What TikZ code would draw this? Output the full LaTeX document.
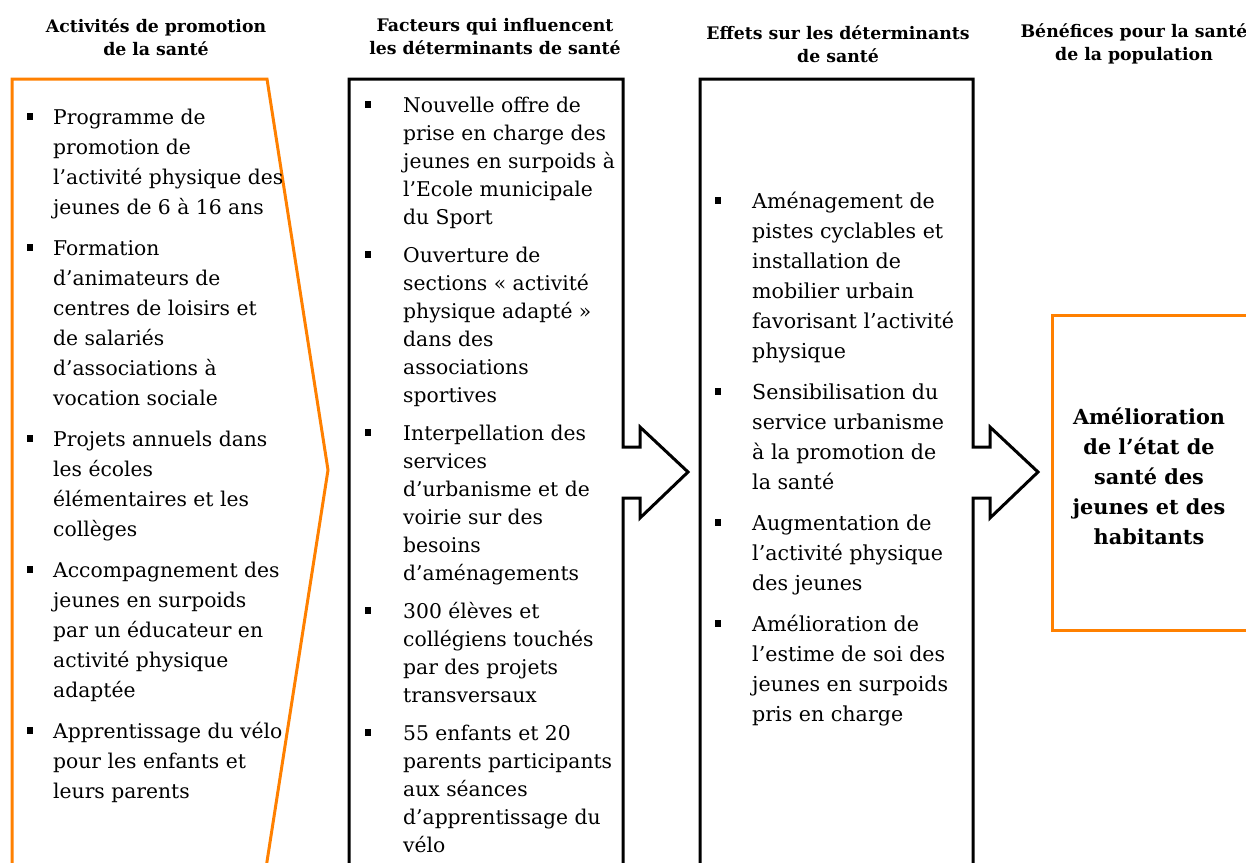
\documentclass[tikz,border=0pt]{standalone}
\usepackage{fontspec}
\setmainfont{DejaVu Serif}
\usepackage{tikz}

\definecolor{boxorange}{RGB}{255,128,0}
\newcommand{\sqb}[1]{\llap{\raisebox{5pt}{\rule{6.5pt}{6.5pt}}\hspace{#1}}}

\tikzset{
  orangeline/.style={draw=boxorange, line width=3pt, line join=miter},
  blackline/.style={draw=black, line width=3pt, line join=miter},
  heading/.style={font=\bfseries\fontsize{17.3}{23}\selectfont, align=center, inner sep=0pt},
  itemtext/.style={align=left, anchor=north west, inner sep=0pt},
}

\begin{document}
\begin{tikzpicture}[x=1pt, y=-1pt]
  \useasboundingbox (0,0) rectangle (1246,862);
  \clip (0,0) rectangle (1246,862);

  % column titles
  \node[heading] (titleA) at (156,37) {Activités de promotion\\de la santé};
  \node[heading] (titleB) at (495,37) {Facteurs qui influencent\\les déterminants de santé};
  \node[heading] (titleC) at (838,44) {Effets sur les déterminants\\de santé};
  \node[heading] (titleD) at (1134,44) {Bénéfices pour la santé\\de la population};

  % outlines
  \draw[orangeline] (12,79) -- (267,79) -- (328,470) -- (266,868) -- (12,868) -- cycle;
  \draw[blackline] (349,880) -- (349,79) -- (623,79) -- (623,447) -- (640,447) -- (640,427)
    -- (688,472) -- (640,518) -- (640,498) -- (623,498) -- (623,880);
  \draw[blackline] (700,880) -- (700,79) -- (973,79) -- (973,447) -- (990,447) -- (990,427)
    -- (1038,472) -- (990,518) -- (990,498) -- (973,498) -- (973,880);
  \draw[orangeline] (1052,315) rectangle (1270,630);

  % column contents
  \node[itemtext, font=\fontsize{20.3}{30}\selectfont] (listA) at (53,109) {%
    \sqb{20pt}Programme de\\promotion de\\l’activité physique des\\jeunes de 6 à 16 ans\\[11pt]
    \sqb{20pt}Formation\\d’animateurs de\\centres de loisirs et\\de salariés\\d’associations à\\vocation sociale\\[11pt]
    \sqb{20pt}Projets annuels dans\\les écoles\\élémentaires et les\\collèges\\[11pt]
    \sqb{20pt}Accompagnement des\\jeunes en surpoids\\par un éducateur en\\activité physique\\adaptée\\[11pt]
    \sqb{20pt}Apprentissage du vélo\\pour les enfants et\\leurs parents};

  \node[itemtext, font=\fontsize{20.3}{28}\selectfont] (listB) at (403,97) {%
    \sqb{32pt}Nouvelle offre de\\prise en charge des\\jeunes en surpoids à\\l’Ecole municipale\\du Sport\\[10pt]
    \sqb{32pt}Ouverture de\\sections « activité\\physique adapté »\\dans des\\associations\\sportives\\[10pt]
    \sqb{32pt}Interpellation des\\services\\d’urbanisme et de\\voirie sur des\\besoins\\d’aménagements\\[10pt]
    \sqb{32pt}300 élèves et\\collégiens touchés\\par des projets\\transversaux\\[10pt]
    \sqb{32pt}55 enfants et 20\\parents participants\\aux séances\\d’apprentissage du\\vélo};

  \node[itemtext, font=\fontsize{20.6}{30}\selectfont] (listC) at (752,192) {%
    \sqb{31pt}Aménagement de\\pistes cyclables et\\installation de\\mobilier urbain\\favorisant l’activité\\physique\\[11pt]
    \sqb{31pt}Sensibilisation du\\service urbanisme\\à la promotion de\\la santé\\[11pt]
    \sqb{31pt}Augmentation de\\l’activité physique\\des jeunes\\[11pt]
    \sqb{31pt}Amélioration de\\l’estime de soi des\\jeunes en surpoids\\pris en charge};

  \node[align=center, inner sep=0pt, font=\bfseries\fontsize{20.8}{30}\selectfont] (result) at (1149,476)
    {Amélioration\\de l’état de\\santé des\\jeunes et des\\habitants};
\end{tikzpicture}
\end{document}
